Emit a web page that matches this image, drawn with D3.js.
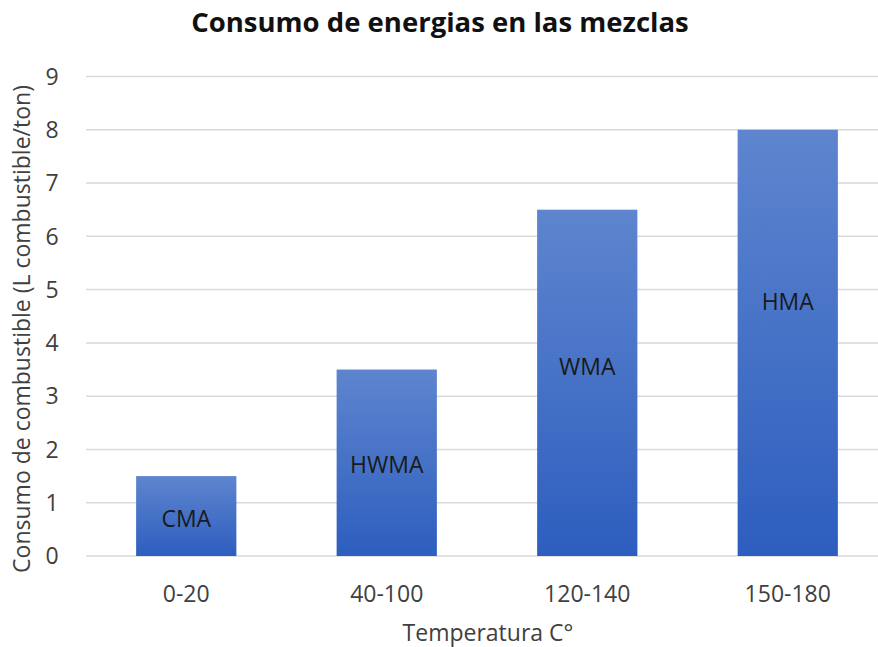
<!DOCTYPE html>
<meta charset="utf-8">
<style>
body { margin: 0; background: #fff; }
text { font-family: "Open Sans", sans-serif; }
.grid line { stroke: #d9d9d9; stroke-width: 1.5px; }
.tick-label { fill: #404040; font-size: 23px; }
</style>
<svg width="878" height="647"></svg>
<script src="https://d3js.org/d3.v7.min.js"></script>
<script>

var categories = ["0-20", "40-100", "120-140", "150-180"];
var values = [1.5, 3.5, 6.5, 8];
var mixes = ["CMA", "HWMA", "WMA", "HMA"];
// where each mix label sits, in y units
var labelAt = [0.7, 1.72, 3.55, 4.77];
var yTicks = [0, 1, 2, 3, 4, 5, 6, 7, 8, 9];

var svg = d3.select("svg"),
    width = +svg.attr("width"),
    height = +svg.attr("height");

var x = d3.scaleBand()
    .domain(categories)
    .range([86, 888])
    .paddingInner(0.5)
    .paddingOuter(0.25);

var y = d3.scaleLinear()
    .domain([0, 9])
    .range([556, 76.5]);

var defs = svg.append("defs");
var grad = defs.append("linearGradient")
    .attr("id", "barGrad")
    .attr("x1", 0).attr("y1", 0)
    .attr("x2", 0).attr("y2", 1);
grad.append("stop").attr("offset", "0%").attr("stop-color", "#5e85ce");
grad.append("stop").attr("offset", "100%").attr("stop-color", "#2d5ebf");

// gridlines
svg.append("g")
    .attr("class", "grid")
  .selectAll("line")
  .data(yTicks)
  .enter().append("line")
    .attr("x1", 86)
    .attr("x2", width)
    .attr("y1", function(d) { return y(d); })
    .attr("y2", function(d) { return y(d); });

// y tick labels
svg.append("g")
  .selectAll("text")
  .data(yTicks)
  .enter().append("text")
    .attr("class", "tick-label")
    .attr("x", 52)
    .attr("y", function(d) { return y(d); })
    .attr("dy", "0.36em")
    .attr("text-anchor", "middle")
    .text(function(d) { return d; });

// bars
svg.append("g")
  .selectAll("rect")
  .data(values)
  .enter().append("rect")
    .attr("x", function(d, i) { return x(categories[i]); })
    .attr("y", function(d) { return y(d); })
    .attr("width", x.bandwidth())
    .attr("height", function(d) { return y(0) - y(d); })
    .attr("fill", "url(#barGrad)");

// mix labels
svg.append("g")
  .selectAll("text")
  .data(mixes)
  .enter().append("text")
    .attr("x", function(d, i) { return x(categories[i]) + x.bandwidth() / 2; })
    .attr("y", function(d, i) { return y(labelAt[i]); })
    .attr("dy", "0.36em")
    .attr("text-anchor", "middle")
    .style("font-size", "23px")
    .style("fill", "#1a1a1a")
    .text(function(d) { return d; });

// x tick labels
svg.append("g")
  .selectAll("text")
  .data(categories)
  .enter().append("text")
    .attr("class", "tick-label")
    .attr("x", function(d) { return x(d) + x.bandwidth() / 2; })
    .attr("y", 602)
    .attr("text-anchor", "middle")
    .text(function(d) { return d; });

// titles
svg.append("text")
    .attr("x", 440)
    .attr("y", 32)
    .attr("text-anchor", "middle")
    .style("font-size", "27.5px")
    .style("font-weight", "bold")
    .style("fill", "#111")
    .text("Consumo de energias en las mezclas");

svg.append("text")
    .attr("x", 488)
    .attr("y", 641)
    .attr("text-anchor", "middle")
    .style("font-size", "23px")
    .style("fill", "#404040")
    .text("Temperatura C°");

svg.append("text")
    .attr("transform", "translate(22,329) rotate(-90)")
    .attr("dy", "0.36em")
    .attr("text-anchor", "middle")
    .style("font-size", "23px")
    .style("fill", "#404040")
    .text("Consumo de combustible (L combustible/ton)");

</script>
